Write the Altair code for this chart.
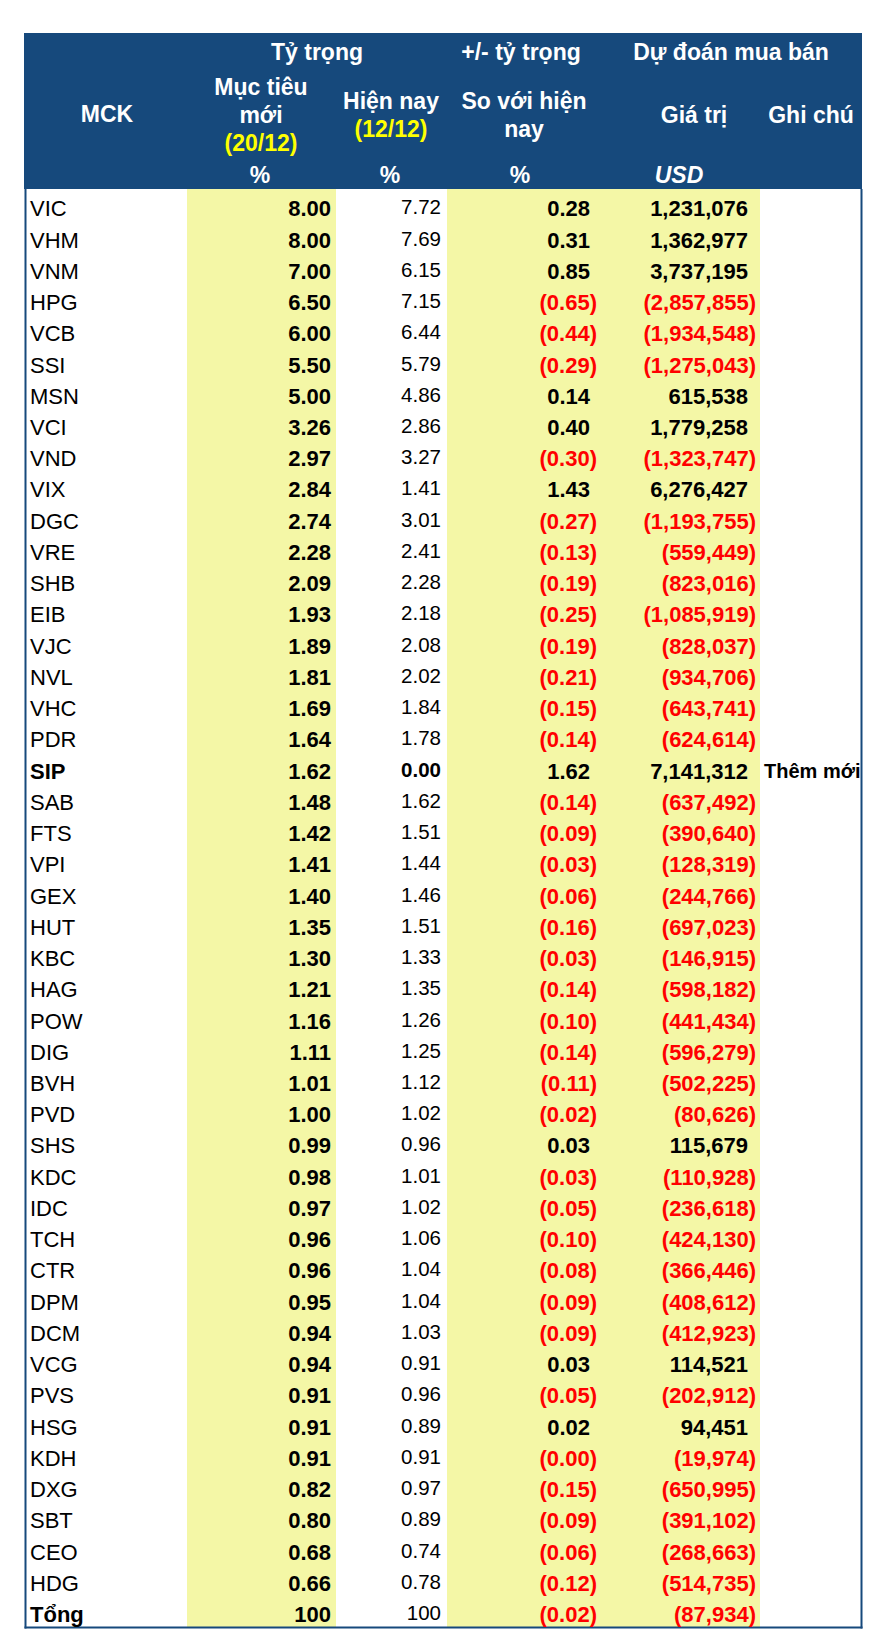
import altair as alt
import pandas as pd

# ---------------- data ----------------
mck = ["VIC", "VHM", "VNM", "HPG", "VCB", "SSI", "MSN", "VCI", "VND", "VIX",
       "DGC", "VRE", "SHB", "EIB", "VJC", "NVL", "VHC", "PDR", "SIP", "SAB",
       "FTS", "VPI", "GEX", "HUT", "KBC", "HAG", "POW", "DIG", "BVH", "PVD",
       "SHS", "KDC", "IDC", "TCH", "CTR", "DPM", "DCM", "VCG", "PVS", "HSG",
       "KDH", "DXG", "SBT", "CEO", "HDG"]
target = [8.00, 8.00, 7.00, 6.50, 6.00, 5.50, 5.00, 3.26, 2.97, 2.84,
          2.74, 2.28, 2.09, 1.93, 1.89, 1.81, 1.69, 1.64, 1.62, 1.48,
          1.42, 1.41, 1.40, 1.35, 1.30, 1.21, 1.16, 1.11, 1.01, 1.00,
          0.99, 0.98, 0.97, 0.96, 0.96, 0.95, 0.94, 0.94, 0.91, 0.91,
          0.91, 0.82, 0.80, 0.68, 0.66]
current = [7.72, 7.69, 6.15, 7.15, 6.44, 5.79, 4.86, 2.86, 3.27, 1.41,
           3.01, 2.41, 2.28, 2.18, 2.08, 2.02, 1.84, 1.78, 0.00, 1.62,
           1.51, 1.44, 1.46, 1.51, 1.33, 1.35, 1.26, 1.25, 1.12, 1.02,
           0.96, 1.01, 1.02, 1.06, 1.04, 1.04, 1.03, 0.91, 0.96, 0.89,
           0.91, 0.97, 0.89, 0.74, 0.78]
delta = [0.28, 0.31, 0.85, -0.65, -0.44, -0.29, 0.14, 0.40, -0.30, 1.43,
         -0.27, -0.13, -0.19, -0.25, -0.19, -0.21, -0.15, -0.14, 1.62, -0.14,
         -0.09, -0.03, -0.06, -0.16, -0.03, -0.14, -0.10, -0.14, -0.11, -0.02,
         0.03, -0.03, -0.05, -0.10, -0.08, -0.09, -0.09, 0.03, -0.05, 0.02,
         -0.001, -0.15, -0.09, -0.06, -0.12]
value_usd = [1231076, 1362977, 3737195, -2857855, -1934548, -1275043, 615538, 1779258, -1323747, 6276427,
             -1193755, -559449, -823016, -1085919, -828037, -934706, -643741, -624614, 7141312, -637492,
             -390640, -128319, -244766, -697023, -146915, -598182, -441434, -596279, -502225, -80626,
             115679, -110928, -236618, -424130, -366446, -408612, -412923, 114521, -202912, 94451,
             -19974, -650995, -391102, -268663, -514735]
notes = {"SIP": "Thêm mới"}
new_code = "SIP"

total_label = "Tổng"
total_target = 100
total_current = 100
total_delta = -0.02
total_value = -87934

hdr_group = ["Tỷ trọng", "+/- tỷ trọng", "Dự đoán mua bán"]
hdr_mck = "MCK"
hdr_target = ["Mục tiêu", "mới"]
hdr_target_date = "(20/12)"
hdr_current = "Hiện nay"
hdr_current_date = "(12/12)"
hdr_delta = ["So với hiện", "nay"]
hdr_value = "Giá trị"
hdr_note = "Ghi chú"
hdr_units = ["%", "%", "%", "USD"]

# ---------------- table ----------------
def fmt2(v):
    return f"({abs(v):.2f})" if v < 0 else f"{v:.2f}"

def fmt0(v):
    return f"({abs(v):,.0f})" if v < 0 else f"{v:,.0f}"

rows = []
for i, code in enumerate(mck):
    rows.append(dict(mck=code, t=fmt2(target[i]), c=fmt2(current[i]),
                     d=fmt2(delta[i]), v=fmt0(value_usd[i]),
                     dneg=delta[i] < 0, vneg=value_usd[i] < 0,
                     note=notes.get(code, ""), bold=code == new_code,
                     cbold=code == new_code))
rows.append(dict(mck=total_label, t=f"{total_target:.0f}", c=f"{total_current:.0f}",
                 d=fmt2(total_delta), v=fmt0(total_value),
                 dneg=total_delta < 0, vneg=total_value < 0,
                 note="", bold=True, cbold=False))
df = pd.DataFrame(rows)
order = list(df["mck"])

# ---------------- layout ----------------
OFF = 8
def px(x):
    return x - OFF

FONT = "Liberation Sans"
BLUE = "#16497C"
YELLOW = "#F4F7A6"
RED = "#FF0000"
BS = 22  # body font size
HS = 23  # header font size
DY = 3

Y = alt.Y("mck:N", axis=None,
          scale=alt.Scale(domain=order, range=[px(190.7), px(1627.7)],
                          paddingInner=0, paddingOuter=0))

one = pd.DataFrame({"k": [0]})

def box(x1, x2, y1, y2, color):
    return alt.Chart(one).mark_rect(color=color).encode(
        x=alt.value(px(x1)), x2=alt.value(px(x2)),
        y=alt.value(px(y1)), y2=alt.value(px(y2)))

def vline(x, y1, y2, color, w):
    return alt.Chart(one).mark_rule(color=color, strokeWidth=w).encode(
        x=alt.value(px(x)), y=alt.value(px(y1)), y2=alt.value(px(y2)))

def hline(x1, x2, y, color, w):
    return alt.Chart(one).mark_rule(color=color, strokeWidth=w).encode(
        x=alt.value(px(x1)), x2=alt.value(px(x2)), y=alt.value(px(y)))

def htext(label, x, y, color="white", italic=False, size=HS):
    return alt.Chart(pd.DataFrame({"label": [label]})).mark_text(
        font=FONT, fontSize=size, fontWeight="bold", color=color,
        fontStyle="italic" if italic else "normal",
        align="center", baseline="middle").encode(
        x=alt.value(px(x)), y=alt.value(px(y)), text="label:N")

layers = [
    box(24, 862, 33, 189, BLUE),
    box(187, 336, 189, 1627, YELLOW),
    box(447, 760, 189, 1627, YELLOW),
    vline(25.5, 189, 1628.5, BLUE, 2),
    vline(861.5, 189, 1628.5, BLUE, 2),
    hline(24.5, 862.5, 1627.5, BLUE, 2),
    # header
    htext(hdr_group[0], 317, 53),
    htext(hdr_group[1], 521, 53),
    htext(hdr_group[2], 731, 53),
    htext(hdr_mck, 107, 115),
    htext(hdr_target[0], 261, 88),
    htext(hdr_target[1], 261, 116),
    htext(hdr_target_date, 261, 144, color="#FFFF00"),
    htext(hdr_current, 391, 102),
    htext(hdr_current_date, 391, 130, color="#FFFF00"),
    htext(hdr_delta[0], 524, 102),
    htext(hdr_delta[1], 524, 130),
    htext(hdr_value, 694, 116),
    htext(hdr_note, 811, 116),
    htext(hdr_units[0], 260, 176),
    htext(hdr_units[1], 390, 176),
    htext(hdr_units[2], 520, 176),
    htext(hdr_units[3], 679, 176, italic=True),
]

base = alt.Chart(df)

def col(field, x, align, weight, color, flt=None, dy=DY, size=BS):
    c = base
    if flt is not None:
        c = c.transform_filter(flt)
    return c.mark_text(font=FONT, fontSize=size, fontWeight=weight, color=color,
                       align=align, baseline="middle", dy=dy).encode(
        x=alt.value(px(x)), y=Y, text=f"{field}:N")

layers += [
    col("mck", 30, "left", "normal", "black", "!datum.bold"),
    col("mck", 30, "left", "bold", "black", "datum.bold"),
    col("t", 331, "right", "bold", "black"),
    col("c", 441, "right", "normal", "black", "!datum.cbold", dy=DY - 1, size=20.5),
    col("c", 441, "right", "bold", "black", "datum.cbold", dy=DY - 1, size=20.5),
    col("d", 590, "right", "bold", "black", "!datum.dneg"),
    col("d", 597, "right", "bold", RED, "datum.dneg"),
    col("v", 748, "right", "bold", "black", "!datum.vneg"),
    col("v", 756, "right", "bold", RED, "datum.vneg"),
    col("note", 764, "left", "bold", "black", "datum.note != ''", size=20),
]

chart = alt.layer(*layers).properties(
    width=873, height=1633,
    autosize=alt.AutoSizeParams(type="none"),
    padding=0,
).configure_view(stroke=None)

chart.save("out.html", embed_options={"renderer": "svg", "actions": False})
